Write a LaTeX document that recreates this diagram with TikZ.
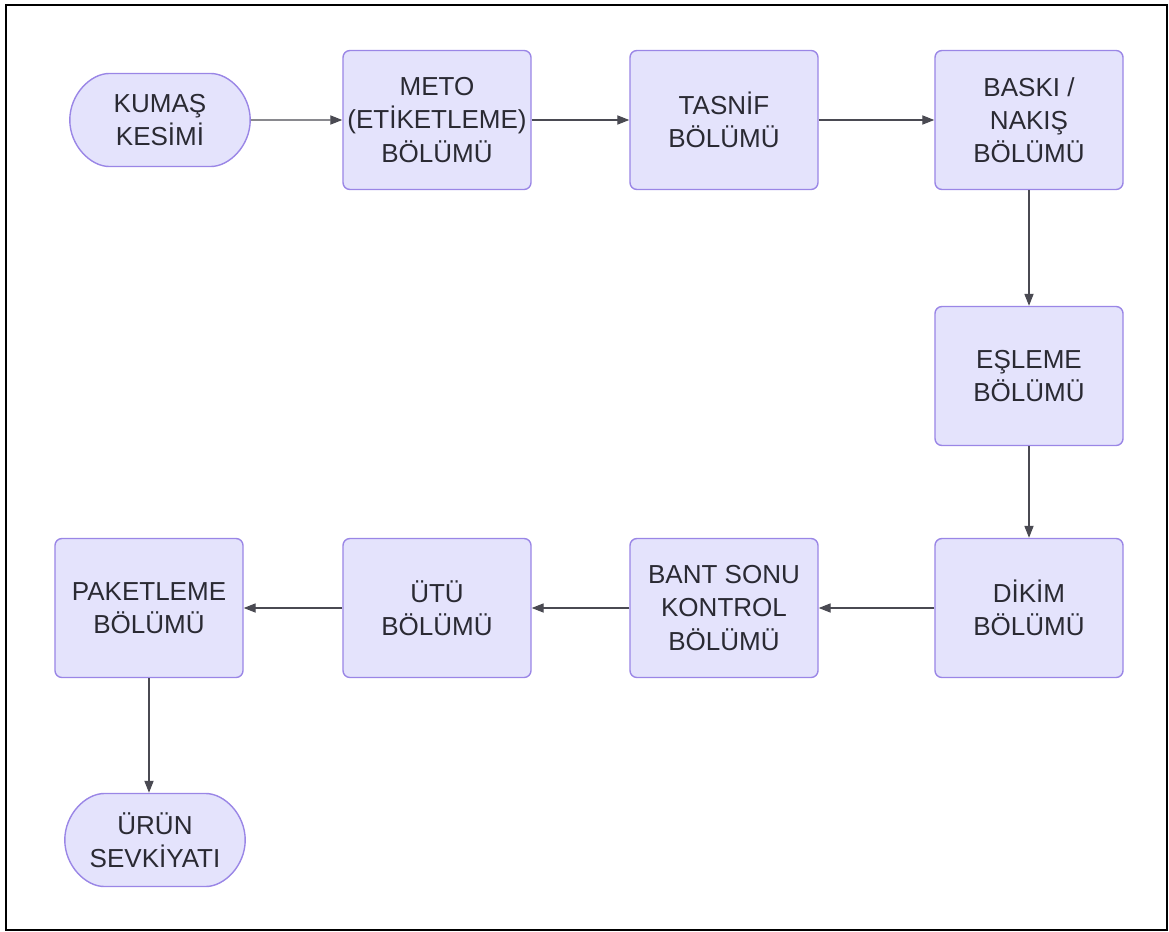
\documentclass[tikz,border=0pt]{standalone}
\usepackage{fontspec}
\setmainfont{Liberation Sans}
\usetikzlibrary{arrows.meta,shapes.misc}
\definecolor{boxfill}{HTML}{E4E3FC}
\definecolor{boxline}{HTML}{9A86E6}
\definecolor{inkgrey}{HTML}{2A2A33}
\begin{document}
\begin{tikzpicture}[x=0.025cm, y=-0.025cm, >={Triangle[length=3mm,width=2.3mm]},
  main node/.style={rectangle,rounded corners=5pt,draw=boxline,fill=boxfill,line width=1pt,
    minimum width=4.7cm,minimum height=3.475cm,align=center,inner sep=2pt,text=inkgrey,
    font=\fontsize{18.5}{23.5}\selectfont},
  end node/.style={main node,rounded rectangle,minimum width=4.65cm,minimum height=2.325cm},
  flow/.style={->,draw=inkgrey!85,line width=0.8pt}]%
\useasboundingbox (0,0) rectangle (1169,932);
\draw[line width=1.6pt] (6,5) rectangle (1167,930);
\begin{scope}
\node[end node] (kesim) at (160,120) {KUMAŞ\\KESİMİ};
\node[main node] (meto) at (437,120) {METO\\(ETİKETLEME)\\BÖLÜMÜ};
\node[main node] (tasnif) at (724,120) {TASNİF\\BÖLÜMÜ};
\node[main node] (baski) at (1029,120) {BASKI /\\NAKIŞ\\BÖLÜMÜ};
\node[main node] (esleme) at (1029,376) {EŞLEME\\BÖLÜMÜ};
\node[main node] (dikim) at (1029,608) {DİKİM\\BÖLÜMÜ};
\node[main node] (bant) at (724,608) {BANT SONU\\KONTROL\\BÖLÜMÜ};
\node[main node] (utu) at (437,608) {ÜTÜ\\BÖLÜMÜ};
\node[main node] (paket) at (149,608) {PAKETLEME\\BÖLÜMÜ};
\node[end node] (sevk) at (155,840) {ÜRÜN\\SEVKİYATI};
%\node[main node] (x) at (,) {};
\end{scope}
\begin{scope}
\draw[flow] (kesim) -- (meto);
\draw[flow] (meto) -- (tasnif);
\draw[flow] (tasnif) -- (baski);
\draw[flow] (baski) -- (esleme);
\draw[flow] (esleme) -- (dikim);
\draw[flow] (dikim) -- (bant);
\draw[flow] (bant) -- (utu);
\draw[flow] (utu) -- (paket);
\draw[flow] (paket.south) -- (paket.south |- sevk.north);
%\draw[flow] (x) -- (x);
\end{scope}
\end{tikzpicture}
\end{document}
